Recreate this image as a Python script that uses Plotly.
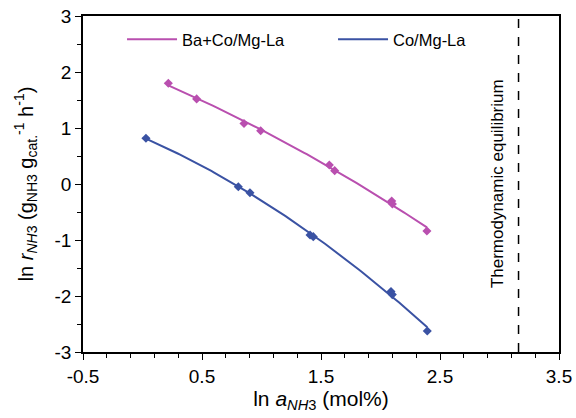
import numpy as np
import plotly.graph_objects as go

# Data
ba_x = [0.217, 0.455, 0.853, 0.993, 1.570, 1.615, 2.094, 2.100, 2.390]
ba_y = [1.80, 1.52, 1.08, 0.952, 0.339, 0.238, -0.304, -0.357, -0.84]
co_x = [0.029, 0.805, 0.903, 1.408, 1.435, 2.088, 2.099, 2.393]
co_y = [0.816, -0.048, -0.155, -0.911, -0.94, -1.92, -1.975, -2.625]
series_names = ["Ba+Co/Mg-La", "Co/Mg-La"]
equilibrium_x = 3.16
x_ticks = [-0.5, 0.5, 1.5, 2.5, 3.5]
y_ticks = [-3, -2, -1, 0, 1, 2, 3]

pink = "#B94FAF"
blue = "#3A52A3"
FONT = "Liberation Sans, Arial, sans-serif"

fig = go.Figure()

def add_series(xs, ys, color, name):
    coef = np.polyfit(xs, ys, 2)
    xf = np.linspace(min(xs), max(xs), 100)
    yf = np.polyval(coef, xf)
    fig.add_trace(go.Scatter(x=xf, y=yf, mode="lines", name=name,
                             line=dict(color=color, width=2), showlegend=True))
    fig.add_trace(go.Scatter(x=xs, y=ys, mode="markers", name=name,
                             marker=dict(symbol="diamond", size=7, color=color),
                             showlegend=False))

add_series(ba_x, ba_y, pink, series_names[0])
add_series(co_x, co_y, blue, series_names[1])

fig.add_shape(type="line", x0=equilibrium_x, x1=equilibrium_x, y0=-3, y1=3,
              xref="x", yref="y", line=dict(color="black", width=1.5, dash="dash"))
fig.add_annotation(x=2.98, y=0, xref="x", yref="y", text="Thermodynamic equilibrium",
                   textangle=-90, showarrow=False, font=dict(size=17, color="black", family=FONT))

fig.update_layout(
    width=576, height=418,
    margin=dict(l=83, r=17, t=16, b=66, autoexpand=False),
    paper_bgcolor="white", plot_bgcolor="white",
    font=dict(family=FONT, color="black", size=19),
    legend=dict(orientation="h", x=0.082, y=0.93, xanchor="left", yanchor="middle",
                font=dict(size=16.5), bgcolor="rgba(0,0,0,0)",
                entrywidth=146, entrywidthmode="pixels", itemwidth=50),
)
fig.update_xaxes(range=[-0.5, 3.5], tickvals=x_ticks, ticktext=[str(v) for v in x_ticks],
                 automargin=False,
                 showgrid=False, zeroline=False, showline=True, linecolor="black", linewidth=1.5,
                 mirror=True, ticks="outside", ticklen=6, tickwidth=1.2, tickcolor="black",
                 minor=dict(tick0=-0.5, dtick=0.2, ticks="outside", ticklen=4, tickwidth=1.2, tickcolor="black"),
                 title=dict(text="ln <i>a</i><sub><i>NH</i>3</sub> (mol%)", font=dict(size=21), standoff=0),
                 tickfont=dict(size=19))
fig.update_yaxes(range=[-3, 3], tickvals=y_ticks, ticktext=[str(v) for v in y_ticks],
                 automargin=False,
                 showgrid=False, zeroline=False, showline=True, linecolor="black", linewidth=1.5,
                 mirror=True, ticks="outside", ticklen=6, tickwidth=1.2, tickcolor="black",
                 minor=dict(dtick=0.5, ticks="outside", ticklen=4, tickwidth=1.2, tickcolor="black"),
                 title=dict(text="ln <i>r</i><sub><i>NH</i>3</sub> (g<sub>NH3</sub> g<sub>cat.</sub><sup>-1</sup> h<sup>-1</sup>)",
                            font=dict(size=20), standoff=16),
                 tickfont=dict(size=19))

fig.write_html("out.html", config={"displayModeBar": False},
               post_script="document.body.style.margin='0';document.body.style.overflow='hidden';")
